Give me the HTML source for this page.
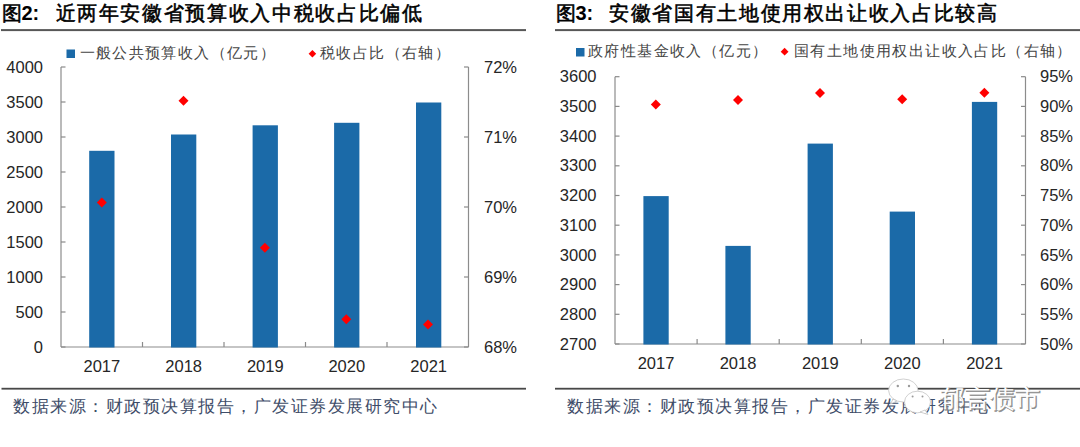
<!DOCTYPE html><html><head><meta charset="utf-8"><style>html,body{margin:0;padding:0;background:#fff;width:1080px;height:447px;overflow:hidden}svg{display:block}.n{font-family:"Liberation Sans",sans-serif;font-size:16.5px;fill:#262626}.c{font-family:"Liberation Serif",serif;fill:#444}.t{font-family:"Liberation Serif",serif;font-weight:normal;fill:#000;stroke:#000;stroke-width:0.55px}.b{font-weight:bold;stroke:none}</style></head><body>
<svg width="1080" height="447" viewBox="0 0 1080 447">
<rect x="1" y="29.1" width="525" height="2" fill="#575757"/>
<rect x="555" y="29.1" width="525" height="2" fill="#575757"/>
<rect x="1.5" y="387.8" width="524.5" height="1.8" fill="#484848"/>
<rect x="555" y="387.8" width="525" height="1.8" fill="#484848"/>
<text class="t" x="2" y="20" font-size="20">图</text><text class="t b" x="21.5" y="20" font-size="20" style="font-family:Liberation Sans">2:</text>
<text class="t" x="55.5" y="20" font-size="20" letter-spacing="1.65">近两年安徽省预算收入中税收占比偏低</text>
<text class="t" x="556" y="20" font-size="20">图</text><text class="t b" x="575.5" y="20" font-size="20" style="font-family:Liberation Sans">3:</text>
<text class="t" x="609" y="20" font-size="20" letter-spacing="1.65">安徽省国有土地使用权出让收入占比较高</text>
<text class="c" x="13" y="412" font-size="17" style="fill:#3e4c68" letter-spacing="1.5">数据来源：财政预决算报告，广发证券发展研究中心</text>
<text class="c" x="567" y="412" font-size="17" style="fill:#3e4c68" letter-spacing="1.5">数据来源：财政预决算报告，广发证券发展研究中心</text>
<line x1="61" y1="67" x2="61" y2="347" stroke="#8c8c8c" stroke-width="1.2"/>
<line x1="468.5" y1="67" x2="468.5" y2="347" stroke="#8c8c8c" stroke-width="1.2"/>
<line x1="61" y1="67.00" x2="65.5" y2="67.00" stroke="#8a8a8a" stroke-width="1.2"/>
<text class="n" x="43" y="72.60" text-anchor="end">4000</text>
<line x1="61" y1="102.00" x2="65.5" y2="102.00" stroke="#8a8a8a" stroke-width="1.2"/>
<text class="n" x="43" y="107.60" text-anchor="end">3500</text>
<line x1="61" y1="137.00" x2="65.5" y2="137.00" stroke="#8a8a8a" stroke-width="1.2"/>
<text class="n" x="43" y="142.60" text-anchor="end">3000</text>
<line x1="61" y1="172.00" x2="65.5" y2="172.00" stroke="#8a8a8a" stroke-width="1.2"/>
<text class="n" x="43" y="177.60" text-anchor="end">2500</text>
<line x1="61" y1="207.00" x2="65.5" y2="207.00" stroke="#8a8a8a" stroke-width="1.2"/>
<text class="n" x="43" y="212.60" text-anchor="end">2000</text>
<line x1="61" y1="242.00" x2="65.5" y2="242.00" stroke="#8a8a8a" stroke-width="1.2"/>
<text class="n" x="43" y="247.60" text-anchor="end">1500</text>
<line x1="61" y1="277.00" x2="65.5" y2="277.00" stroke="#8a8a8a" stroke-width="1.2"/>
<text class="n" x="43" y="282.60" text-anchor="end">1000</text>
<line x1="61" y1="312.00" x2="65.5" y2="312.00" stroke="#8a8a8a" stroke-width="1.2"/>
<text class="n" x="43" y="317.60" text-anchor="end">500</text>
<line x1="61" y1="347.00" x2="65.5" y2="347.00" stroke="#8a8a8a" stroke-width="1.2"/>
<text class="n" x="43" y="352.60" text-anchor="end">0</text>
<line x1="464.0" y1="67.00" x2="468.5" y2="67.00" stroke="#8a8a8a" stroke-width="1.2"/>
<text class="n" x="484" y="72.60">72%</text>
<line x1="464.0" y1="137.00" x2="468.5" y2="137.00" stroke="#8a8a8a" stroke-width="1.2"/>
<text class="n" x="484" y="142.60">71%</text>
<line x1="464.0" y1="207.00" x2="468.5" y2="207.00" stroke="#8a8a8a" stroke-width="1.2"/>
<text class="n" x="484" y="212.60">70%</text>
<line x1="464.0" y1="277.00" x2="468.5" y2="277.00" stroke="#8a8a8a" stroke-width="1.2"/>
<text class="n" x="484" y="282.60">69%</text>
<line x1="464.0" y1="347.00" x2="468.5" y2="347.00" stroke="#8a8a8a" stroke-width="1.2"/>
<text class="n" x="484" y="352.60">68%</text>
<line x1="61" y1="347" x2="468.5" y2="347" stroke="#8c8c8c" stroke-width="1.2"/>
<line x1="142.50" y1="342" x2="142.50" y2="347" stroke="#8a8a8a" stroke-width="1.2"/>
<line x1="224.00" y1="342" x2="224.00" y2="347" stroke="#8a8a8a" stroke-width="1.2"/>
<line x1="305.50" y1="342" x2="305.50" y2="347" stroke="#8a8a8a" stroke-width="1.2"/>
<line x1="387.00" y1="342" x2="387.00" y2="347" stroke="#8a8a8a" stroke-width="1.2"/>
<rect x="89.2" y="150.8" width="25.3" height="196.70" fill="#1b6aa8"/>
<text class="n" x="101.85" y="372" text-anchor="middle">2017</text>
<rect x="171" y="134.5" width="25.3" height="213.00" fill="#1b6aa8"/>
<text class="n" x="183.65" y="372" text-anchor="middle">2018</text>
<rect x="252.6" y="125.3" width="25.3" height="222.20" fill="#1b6aa8"/>
<text class="n" x="265.25" y="372" text-anchor="middle">2019</text>
<rect x="334.1" y="122.8" width="25.3" height="224.70" fill="#1b6aa8"/>
<text class="n" x="346.75" y="372" text-anchor="middle">2020</text>
<rect x="416" y="102.5" width="25.3" height="245.00" fill="#1b6aa8"/>
<text class="n" x="428.65" y="372" text-anchor="middle">2021</text>
<path d="M101.8 197.4L106.8 202.4L101.8 207.4L96.8 202.4Z" fill="#ff0000"/>
<path d="M183.5 95.8L188.5 100.8L183.5 105.8L178.5 100.8Z" fill="#ff0000"/>
<path d="M264.9 242.7L269.9 247.7L264.9 252.7L259.9 247.7Z" fill="#ff0000"/>
<path d="M346.3 314.3L351.3 319.3L346.3 324.3L341.3 319.3Z" fill="#ff0000"/>
<path d="M428 319.5L433 324.5L428 329.5L423 324.5Z" fill="#ff0000"/>
<line x1="615" y1="76.7" x2="615" y2="344" stroke="#8c8c8c" stroke-width="1.2"/>
<line x1="1025.5" y1="76.7" x2="1025.5" y2="344" stroke="#8c8c8c" stroke-width="1.2"/>
<line x1="615" y1="76.70" x2="619.5" y2="76.70" stroke="#8a8a8a" stroke-width="1.2"/>
<text class="n" x="596.5" y="82.30" text-anchor="end">3600</text>
<line x1="615" y1="106.40" x2="619.5" y2="106.40" stroke="#8a8a8a" stroke-width="1.2"/>
<text class="n" x="596.5" y="112.00" text-anchor="end">3500</text>
<line x1="615" y1="136.10" x2="619.5" y2="136.10" stroke="#8a8a8a" stroke-width="1.2"/>
<text class="n" x="596.5" y="141.70" text-anchor="end">3400</text>
<line x1="615" y1="165.80" x2="619.5" y2="165.80" stroke="#8a8a8a" stroke-width="1.2"/>
<text class="n" x="596.5" y="171.40" text-anchor="end">3300</text>
<line x1="615" y1="195.50" x2="619.5" y2="195.50" stroke="#8a8a8a" stroke-width="1.2"/>
<text class="n" x="596.5" y="201.10" text-anchor="end">3200</text>
<line x1="615" y1="225.20" x2="619.5" y2="225.20" stroke="#8a8a8a" stroke-width="1.2"/>
<text class="n" x="596.5" y="230.80" text-anchor="end">3100</text>
<line x1="615" y1="254.90" x2="619.5" y2="254.90" stroke="#8a8a8a" stroke-width="1.2"/>
<text class="n" x="596.5" y="260.50" text-anchor="end">3000</text>
<line x1="615" y1="284.60" x2="619.5" y2="284.60" stroke="#8a8a8a" stroke-width="1.2"/>
<text class="n" x="596.5" y="290.20" text-anchor="end">2900</text>
<line x1="615" y1="314.30" x2="619.5" y2="314.30" stroke="#8a8a8a" stroke-width="1.2"/>
<text class="n" x="596.5" y="319.90" text-anchor="end">2800</text>
<line x1="615" y1="344.00" x2="619.5" y2="344.00" stroke="#8a8a8a" stroke-width="1.2"/>
<text class="n" x="596.5" y="349.60" text-anchor="end">2700</text>
<line x1="1021.0" y1="76.70" x2="1025.5" y2="76.70" stroke="#8a8a8a" stroke-width="1.2"/>
<text class="n" x="1040" y="82.30">95%</text>
<line x1="1021.0" y1="106.40" x2="1025.5" y2="106.40" stroke="#8a8a8a" stroke-width="1.2"/>
<text class="n" x="1040" y="112.00">90%</text>
<line x1="1021.0" y1="136.10" x2="1025.5" y2="136.10" stroke="#8a8a8a" stroke-width="1.2"/>
<text class="n" x="1040" y="141.70">85%</text>
<line x1="1021.0" y1="165.80" x2="1025.5" y2="165.80" stroke="#8a8a8a" stroke-width="1.2"/>
<text class="n" x="1040" y="171.40">80%</text>
<line x1="1021.0" y1="195.50" x2="1025.5" y2="195.50" stroke="#8a8a8a" stroke-width="1.2"/>
<text class="n" x="1040" y="201.10">75%</text>
<line x1="1021.0" y1="225.20" x2="1025.5" y2="225.20" stroke="#8a8a8a" stroke-width="1.2"/>
<text class="n" x="1040" y="230.80">70%</text>
<line x1="1021.0" y1="254.90" x2="1025.5" y2="254.90" stroke="#8a8a8a" stroke-width="1.2"/>
<text class="n" x="1040" y="260.50">65%</text>
<line x1="1021.0" y1="284.60" x2="1025.5" y2="284.60" stroke="#8a8a8a" stroke-width="1.2"/>
<text class="n" x="1040" y="290.20">60%</text>
<line x1="1021.0" y1="314.30" x2="1025.5" y2="314.30" stroke="#8a8a8a" stroke-width="1.2"/>
<text class="n" x="1040" y="319.90">55%</text>
<line x1="1021.0" y1="344.00" x2="1025.5" y2="344.00" stroke="#8a8a8a" stroke-width="1.2"/>
<text class="n" x="1040" y="349.60">50%</text>
<line x1="615" y1="344" x2="1025.5" y2="344" stroke="#8c8c8c" stroke-width="1.2"/>
<line x1="697.10" y1="339" x2="697.10" y2="344" stroke="#8a8a8a" stroke-width="1.2"/>
<line x1="779.20" y1="339" x2="779.20" y2="344" stroke="#8a8a8a" stroke-width="1.2"/>
<line x1="861.30" y1="339" x2="861.30" y2="344" stroke="#8a8a8a" stroke-width="1.2"/>
<line x1="943.40" y1="339" x2="943.40" y2="344" stroke="#8a8a8a" stroke-width="1.2"/>
<rect x="643.4" y="196.1" width="25.3" height="148.40" fill="#1b6aa8"/>
<text class="n" x="656.05" y="368.8" text-anchor="middle">2017</text>
<rect x="725.4" y="245.9" width="25.3" height="98.60" fill="#1b6aa8"/>
<text class="n" x="738.05" y="368.8" text-anchor="middle">2018</text>
<rect x="807.6" y="143.6" width="25.3" height="200.90" fill="#1b6aa8"/>
<text class="n" x="820.25" y="368.8" text-anchor="middle">2019</text>
<rect x="889.7" y="211.6" width="25.3" height="132.90" fill="#1b6aa8"/>
<text class="n" x="902.35" y="368.8" text-anchor="middle">2020</text>
<rect x="971.9" y="101.9" width="25.3" height="242.60" fill="#1b6aa8"/>
<text class="n" x="984.55" y="368.8" text-anchor="middle">2021</text>
<path d="M655.8 99.5L660.8 104.5L655.8 109.5L650.8 104.5Z" fill="#ff0000"/>
<path d="M738 95.1L743 100.1L738 105.1L733 100.1Z" fill="#ff0000"/>
<path d="M820 87.9L825 92.9L820 97.9L815 92.9Z" fill="#ff0000"/>
<path d="M902.2 94.3L907.2 99.3L902.2 104.3L897.2 99.3Z" fill="#ff0000"/>
<path d="M984.4 87.8L989.4 92.8L984.4 97.8L979.4 92.8Z" fill="#ff0000"/>
<rect x="66.5" y="49.5" width="8.5" height="8.5" fill="#1b6aa8"/>
<text class="c" x="79.5" y="57.6" font-size="15" letter-spacing="1.4">一般公共预算收入（亿元）</text>
<path d="M312.4 49.9L316.2 53.7L312.4 57.5L308.6 53.7Z" fill="#ff0000"/>
<text class="c" x="320" y="57.6" font-size="15" letter-spacing="1.4">税收占比（右轴）</text>
<rect x="576" y="48" width="8.5" height="8.5" fill="#1b6aa8"/>
<text class="c" x="588" y="56" font-size="15" letter-spacing="1.4">政府性基金收入（亿元）</text>
<path d="M784.6 47.8L788.5 51.7L784.6 55.6L780.7 51.7Z" fill="#ff0000"/>
<text class="c" x="794" y="56" font-size="15" letter-spacing="1.4">国有土地使用权出让收入占比（右轴）</text>
<g fill="#fff" stroke="#c4c4c4" stroke-width="0.8"><ellipse cx="903.3" cy="390.5" rx="14.7" ry="11.5"/><path d="M893 399 L890.5 404 L897 401 Z"/><ellipse cx="917.5" cy="402" rx="13" ry="10.8"/><path d="M925 410 L928 414.5 L920 412 Z"/></g>
<g fill="#9a9a9a"><circle cx="897.8" cy="386" r="1.2"/><circle cx="909" cy="386" r="1.2"/><circle cx="912.6" cy="396.5" r="1"/><circle cx="922.5" cy="396.5" r="1"/></g>
<text x="941" y="408" font-size="25" style="font-family:Liberation Sans" fill="#7a7a7a" stroke="#7a7a7a" stroke-width="0.8" opacity="0.85">郁言债市</text>
<text x="940.3" y="407.3" font-size="25" style="font-family:Liberation Sans" fill="#fff">郁言债市</text>
</svg></body></html>
